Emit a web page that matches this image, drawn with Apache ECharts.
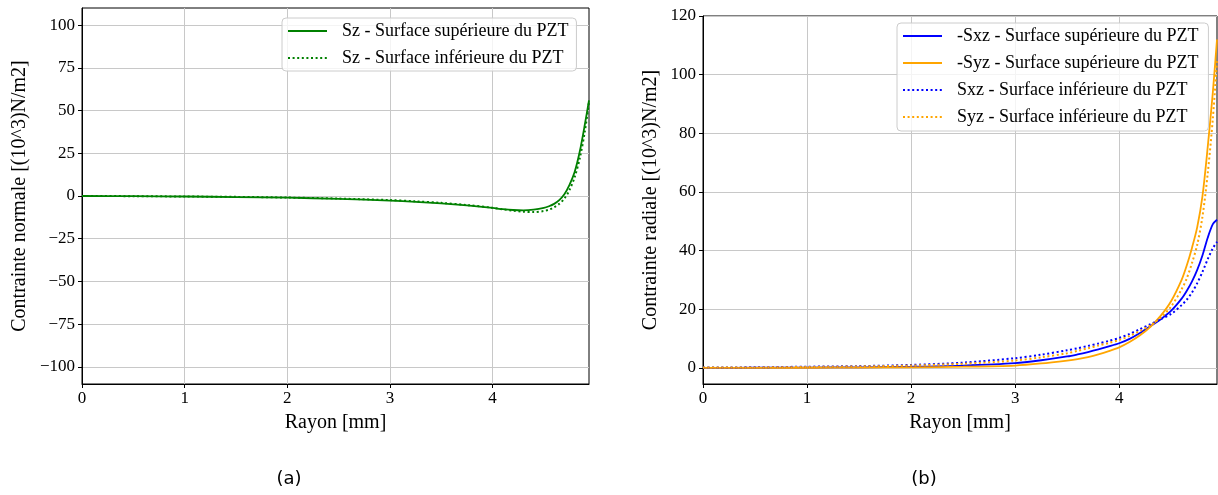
<!DOCTYPE html>
<html><head><meta charset="utf-8">
<script src="https://cdn.jsdelivr.net/npm/echarts@6/dist/echarts.min.js"></script>
<style>html,body{margin:0;padding:0;background:#fff}#c{width:1218px;height:495px}</style>
</head><body><div id="c"></div>
<script>
// ---- data (a) : contrainte normale ----
const rayonA = [0, 0.5, 1, 1.5, 2, 2.5, 3, 3.25, 3.5, 3.75, 4, 4.1, 4.2, 4.3, 4.4, 4.5, 4.55, 4.6, 4.65, 4.7, 4.75, 4.8, 4.85, 4.9, 4.94];
const szSup  = [0, -0.1, -0.3, -0.6, -1.0, -1.7, -2.7, -3.4, -4.3, -5.5, -7.0, -7.7, -8.2, -8.4, -8.0, -7.0, -6.0, -4.6, -2.4, 1.0, 6.5, 14, 26, 42, 56];
const szInf  = [0, -0.1, -0.3, -0.5, -0.9, -1.5, -2.4, -3.1, -4.0, -5.3, -6.9, -7.8, -8.6, -9.2, -9.4, -8.8, -8.0, -6.6, -4.6, -1.5, 3.5, 11, 22, 38, 55];
// ---- data (b) : contrainte radiale ----
const rayonB = [0, 0.5, 1, 1.5, 2, 2.5, 3, 3.25, 3.5, 3.6, 3.7, 3.8, 3.9, 4, 4.1, 4.2, 4.3, 4.4, 4.5, 4.6, 4.65, 4.7, 4.75, 4.8, 4.85, 4.9, 4.94];
const sxzSup = [0, 0.05, 0.1, 0.2, 0.4, 0.8, 1.6, 2.6, 3.9, 4.6, 5.4, 6.3, 7.3, 8.4, 9.9, 11.9, 14.2, 16.6, 19.5, 23.6, 26.3, 29.5, 33.4, 38.3, 44.3, 49.0, 50.5];
const syzSup = [0, 0, 0.05, 0.1, 0.2, 0.4, 0.8, 1.5, 2.5, 3.0, 3.7, 4.6, 5.7, 7.0, 8.8, 11.1, 14.0, 17.8, 22.8, 30, 35, 41, 48, 58.5, 75, 94, 112];
const sxzInf = [0.1, 0.2, 0.4, 0.6, 1.0, 1.8, 3.3, 4.5, 6.0, 6.7, 7.5, 8.3, 9.2, 10.2, 11.6, 13.2, 14.9, 16.6, 18.4, 21.4, 23.3, 25.7, 28.9, 32.7, 37.0, 40.8, 43.0];
const syzInf = [0.1, 0.15, 0.3, 0.5, 0.8, 1.4, 2.5, 3.6, 5.0, 5.8, 6.7, 7.6, 8.5, 9.5, 10.9, 12.6, 14.5, 17.2, 21.0, 26.8, 30.6, 35.8, 42.0, 51.5, 66, 85, 105];
// ---- ticks ----
const xTicks  = [0, 1, 2, 3, 4];
const yTicksA = [-100, -75, -50, -25, 0, 25, 50, 75, 100];
const yTicksB = [0, 20, 40, 60, 80, 100, 120];

const SERIF = '"Liberation Serif", "Times New Roman", serif';
const GREEN = '#008000', BLUE = '#0000ff', ORANGE = '#ffa500';
const DOT = [2, 2.6];
const pairs = (xs, ys) => xs.map((x, i) => [x, ys[i]]);
const minus = v => String(v).replace('-', '\u2212');

function xAxis(gi) {
  return {
    type: 'value', gridIndex: gi, min: 0, max: 4.94,
    name: 'Rayon [mm]', nameLocation: 'middle', nameGap: 29,
    nameTextStyle: { fontFamily: SERIF, fontSize: 20, color: '#000' },
    axisLine: { show: true, onZero: false, lineStyle: { color: '#000', width: 1 } },
    axisTick: { show: true, inside: false, length: 4, customValues: xTicks, lineStyle: { color: '#000' } },
    axisLabel: { customValues: xTicks, margin: 6, fontFamily: SERIF, fontSize: 17, color: '#000' },
    splitLine: { show: true, lineStyle: { color: '#c8c8c8', width: 1 } }
  };
}
function yAxis(gi, min, max, ticks, name, gap) {
  return {
    type: 'value', gridIndex: gi, min, max,
    name, nameLocation: 'middle', nameGap: gap,
    nameTextStyle: { fontFamily: SERIF, fontSize: 20, color: '#000' },
    axisLine: { show: true, onZero: false, lineStyle: { color: '#000', width: 1 } },
    axisTick: { show: true, inside: false, length: 4, customValues: ticks, lineStyle: { color: '#000' } },
    axisLabel: { customValues: ticks, margin: 7, fontFamily: SERIF, fontSize: 17, color: '#000', formatter: minus },
    splitLine: { show: true, lineStyle: { color: '#c8c8c8', width: 1 } }
  };
}
function line(name, gi, xs, ys, color, dotted) {
  return {
    type: 'line', name, xAxisIndex: gi, yAxisIndex: gi, data: pairs(xs, ys),
    showSymbol: false, symbol: 'none', smooth: 0.3, clip: true,
    lineStyle: { color, width: dotted ? 2 : 1.8, type: dotted ? DOT : 'solid' },
    itemStyle: { color }
  };
}
const legendBase = {
  orient: 'vertical', itemWidth: 39, itemHeight: 18, itemGap: 9,
  itemStyle: { opacity: 0 },
  backgroundColor: 'rgba(255,255,255,0.8)', borderColor: '#cccccc', borderWidth: 1, borderRadius: 4,
  textStyle: { fontFamily: SERIF, fontSize: 18, color: '#000', padding: [0, 0, 0, 10] }
};

const names = {
  a1: 'Sz - Surface supérieure du PZT', a2: 'Sz - Surface inférieure du PZT',
  b1: '-Sxz - Surface supérieure du PZT', b2: '-Syz - Surface supérieure du PZT',
  b3: 'Sxz - Surface inférieure du PZT', b4: 'Syz - Surface inférieure du PZT'
};

const chart = echarts.init(document.getElementById('c'), null, { renderer: 'canvas' });
chart.setOption({
  animation: false,
  backgroundColor: '#fff',
  grid: [
    { left: 82, top: 8, width: 507, height: 376, show: true, borderColor: '#000', borderWidth: 1, backgroundColor: 'transparent' },
    { left: 703, top: 16, width: 514, height: 368, show: true, borderColor: '#000', borderWidth: 1, backgroundColor: 'transparent' }
  ],
  xAxis: [xAxis(0), xAxis(1)],
  yAxis: [
    yAxis(0, -110, 110, yTicksA, 'Contrainte normale [(10^3)N/m2]', 52),
    yAxis(1, -5.5, 120, yTicksB, 'Contrainte radiale [(10^3)N/m2]', 42)
  ],
  legend: [
    Object.assign({}, legendBase, { left: 282, top: 18, padding: [4, 8, 4, 5], data: [names.a1, names.a2] }),
    Object.assign({}, legendBase, { left: 897, top: 23, padding: [4, 10, 5, 5], data: [names.b1, names.b2, names.b3, names.b4] })
  ],
  series: [
    line(names.a1, 0, rayonA, szSup, GREEN, false),
    line(names.a2, 0, rayonA, szInf, GREEN, true),
    line(names.b1, 1, rayonB, sxzSup, BLUE, false),
    line(names.b2, 1, rayonB, syzSup, ORANGE, false),
    line(names.b3, 1, rayonB, sxzInf, BLUE, true),
    line(names.b4, 1, rayonB, syzInf, ORANGE, true)
  ],
  graphic: [
    { type: 'text', x: 289, y: 479, style: { text: '(a)', font: '18px "DejaVu Sans"', align: 'center', verticalAlign: 'middle', fill: '#000' } },
    { type: 'text', x: 924, y: 479, style: { text: '(b)', font: '18px "DejaVu Sans"', align: 'center', verticalAlign: 'middle', fill: '#000' } }
  ]
});
</script></body></html>
